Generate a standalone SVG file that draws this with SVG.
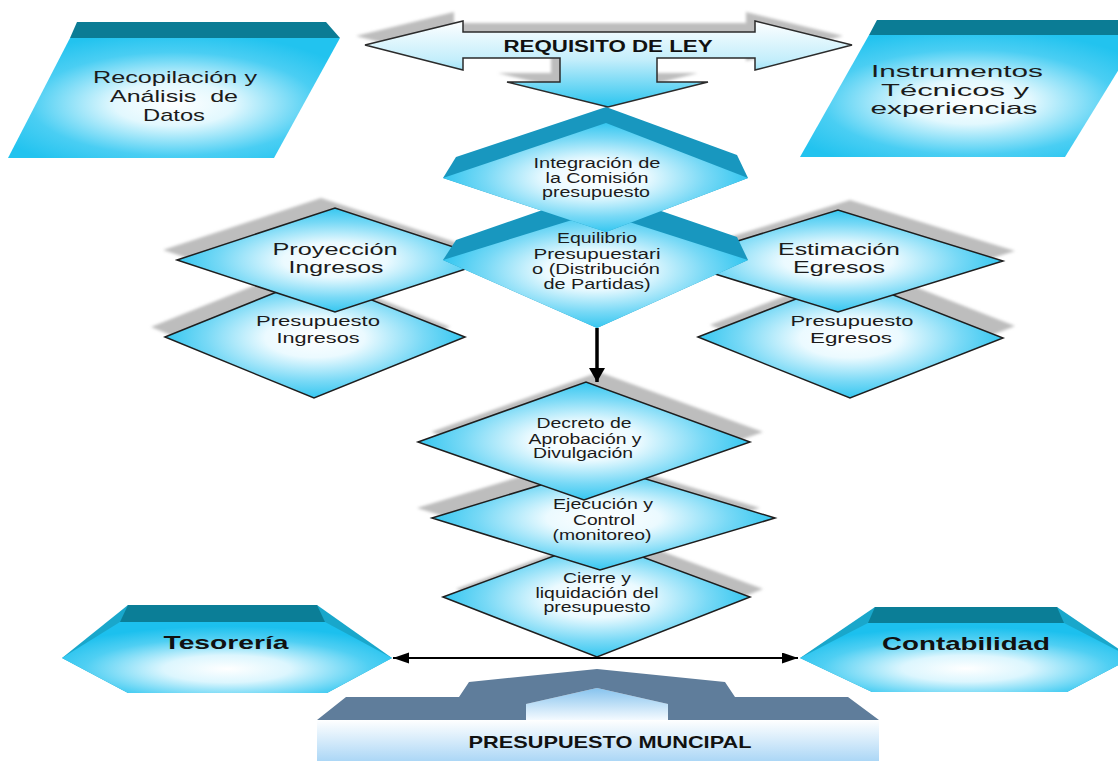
<svg xmlns="http://www.w3.org/2000/svg" width="1118" height="761" viewBox="0 0 1118 761">
<defs>
  <radialGradient id="gCyan" cx="0.5" cy="0.5" r="0.55">
    <stop offset="0" stop-color="#ffffff"/>
    <stop offset="0.3" stop-color="#ebfaff"/>
    <stop offset="0.66" stop-color="#78d9f6"/>
    <stop offset="1" stop-color="#1dc0ee"/>
  </radialGradient>
  <radialGradient id="gPara" cx="0.5" cy="0.55" r="0.6">
    <stop offset="0" stop-color="#ffffff"/>
    <stop offset="0.3" stop-color="#e2f8fe"/>
    <stop offset="0.72" stop-color="#4acef3"/>
    <stop offset="1" stop-color="#22c3ef"/>
  </radialGradient>
  <radialGradient id="gHex" cx="0.5" cy="0.66" r="0.6">
    <stop offset="0" stop-color="#ffffff"/>
    <stop offset="0.32" stop-color="#dcf6fe"/>
    <stop offset="0.72" stop-color="#4fcff3"/>
    <stop offset="1" stop-color="#1cc0ee"/>
  </radialGradient>
  <linearGradient id="gArrow" gradientUnits="userSpaceOnUse" x1="0" y1="20" x2="0" y2="108">
    <stop offset="0" stop-color="#ffffff"/>
    <stop offset="0.45" stop-color="#c4eefb"/>
    <stop offset="1" stop-color="#27c4ef"/>
  </linearGradient>
  <linearGradient id="gBase" x1="0" y1="0" x2="0" y2="1">
    <stop offset="0" stop-color="#ffffff"/>
    <stop offset="1" stop-color="#acd7f6"/>
  </linearGradient>
  <linearGradient id="gRoof" x1="0" y1="0" x2="0" y2="1">
    <stop offset="0" stop-color="#86c3ee"/>
    <stop offset="1" stop-color="#f4faff"/>
  </linearGradient>
  <filter id="soft" x="-10%" y="-10%" width="120%" height="120%">
    <feGaussianBlur stdDeviation="1.5"/>
  </filter>
  <marker id="headV" markerUnits="userSpaceOnUse" markerWidth="18" markerHeight="16" refX="14" refY="8" orient="auto">
    <path d="M0,0 L14,8 L0,16 Z" fill="#000"/>
  </marker>
  <marker id="headH" markerUnits="userSpaceOnUse" markerWidth="18" markerHeight="12" refX="16" refY="5.5" orient="auto-start-reverse">
    <path d="M0,0 L16,5.5 L0,11 Z" fill="#000"/>
  </marker>
  <style>
    .t{font-family:"Liberation Sans",Arial,Helvetica,sans-serif;text-anchor:middle;fill:#1b1b1b}
    .s14{font-size:14px}
    .s16{font-size:16.5px}
    .s17{font-size:17px}
    .b{font-weight:bold;fill:#111}
    .dia{fill:url(#gCyan);stroke:#1e1e1e;stroke-width:1.5;stroke-linejoin:miter}
    .shadow{fill:#bdbdbd;filter:url(#soft)}
    .face{fill:url(#gCyan)}
    .pface{fill:url(#gPara)}
    .band3d{fill:#1897bf}
    .pband{fill:#0b7c95}
    .hexbase{fill:#19a7cb}
    .hexband{fill:#0b7e97}
    .hexface{fill:url(#gHex)}
    .slate{fill:#5f7d9b}
    .conn{stroke:#000;fill:none}
  </style>
</defs>

<rect width="1118" height="761" fill="#ffffff"/>

<!-- data gathering, left -->
<g id="recopilacion">
  <polygon class="pband" points="77,22 326,22 340,38 70,38"/>
  <polygon class="pface" points="70,38 340,38 274,158 8,158"/>
  <text class="t s17" x="175" y="83" textLength="164" lengthAdjust="spacingAndGlyphs">Recopilación y</text>
  <text class="t s17" x="174" y="102" textLength="128" lengthAdjust="spacingAndGlyphs" xml:space="preserve">Análisis  de</text>
  <text class="t s17" x="174" y="121" textLength="62" lengthAdjust="spacingAndGlyphs">Datos</text>
</g>

<!-- technical instruments, right -->
<g id="instrumentos">
  <polygon class="pband" points="877,20 1125,20 1140,35 869,35"/>
  <polygon class="pface" points="869,35 1140,35 1065,157 800,157"/>
  <text class="t s17" x="957" y="77" textLength="172" lengthAdjust="spacingAndGlyphs">Instrumentos</text>
  <text class="t s17" x="955" y="96" textLength="148" lengthAdjust="spacingAndGlyphs">Técnicos y</text>
  <text class="t s17" x="954" y="114" textLength="167" lengthAdjust="spacingAndGlyphs">experiencias</text>
</g>

<!-- income side -->
<g id="presupuesto-ingresos">
  <polygon class="shadow" points="151,327 300,267 450,327 300,388"/>
  <polygon class="dia" points="165,337 314,277 465,337 314,398"/>
  <text class="t s14" x="318" y="326" textLength="124" lengthAdjust="spacingAndGlyphs">Presupuesto</text>
  <text class="t s14" x="318" y="343" textLength="83" lengthAdjust="spacingAndGlyphs">Ingresos</text>
</g>
<g id="proyeccion-ingresos">
  <polygon class="shadow" points="163,250 321,198 479,250 321,302"/>
  <polygon class="dia" points="177,260 335,208 493,260 335,312"/>
  <text class="t s16" x="335" y="255" textLength="125" lengthAdjust="spacingAndGlyphs">Proyección</text>
  <text class="t s16" x="336" y="273" textLength="95" lengthAdjust="spacingAndGlyphs">Ingresos</text>
</g>

<!-- expense side -->
<g id="presupuesto-egresos">
  <polygon class="shadow" points="710,325 862,266 1015,326 862,386"/>
  <polygon class="dia" points="698,337 850,278 1003,338 850,398"/>
  <text class="t s14" x="852" y="326" textLength="123" lengthAdjust="spacingAndGlyphs">Presupuesto</text>
  <text class="t s14" x="851" y="343" textLength="82" lengthAdjust="spacingAndGlyphs">Egresos</text>
</g>
<g id="estimacion-egresos">
  <polygon class="shadow" points="685,251 850,200 1015,251 850,302"/>
  <polygon class="dia" points="673,261 838,210 1003,261 838,312"/>
  <text class="t s16" x="839" y="255" textLength="122" lengthAdjust="spacingAndGlyphs">Estimación</text>
  <text class="t s16" x="839" y="273" textLength="92" lengthAdjust="spacingAndGlyphs">Egresos</text>
</g>

<!-- budget balance -->
<g id="equilibrio">
  <polygon class="band3d" points="443,260 456,240 600,190 737,237 748,260 597,328"/>
  <polygon class="face" points="443,260 598,212 748,260 597,328"/>
  <text class="t s14" x="597" y="243" textLength="80" lengthAdjust="spacingAndGlyphs">Equilibrio</text>
  <text class="t s14" x="597" y="259" textLength="127" lengthAdjust="spacingAndGlyphs">Presupuestari</text>
  <text class="t s14" x="596" y="274" textLength="128" lengthAdjust="spacingAndGlyphs">o (Distribución</text>
  <text class="t s14" x="597" y="289" textLength="107" lengthAdjust="spacingAndGlyphs">de Partidas)</text>
</g>

<!-- commission -->
<g id="integracion">
  <polygon class="band3d" points="443,178 456,157 606,107 737,155 748,178 606,232"/>
  <polygon class="face" points="443,178 606,123 748,178 606,232"/>
  <text class="t s14" x="597" y="168" textLength="127" lengthAdjust="spacingAndGlyphs">Integración de</text>
  <text class="t s14" x="597" y="183" textLength="103" lengthAdjust="spacingAndGlyphs">la Comisión</text>
  <text class="t s14" x="596" y="197" textLength="108" lengthAdjust="spacingAndGlyphs">presupuesto</text>
</g>

<!-- legal requirement arrow -->
<g id="requisito-de-ley">
  <polygon class="shadow" points="356,36 454,12 454,23 746,23 746,12 843,36 746,61 746,49 648,49 648,73 698,73 599,98 498,73 551,73 551,49 454,49 454,61"/>
  <polygon fill="url(#gArrow)" stroke="#2b2b2b" stroke-width="1.5" stroke-linejoin="miter" points="365,45 463,21 463,32 755,32 755,21 852,45 755,70 755,58 657,58 657,82 708,82 608,107 507,82 560,82 560,58 463,58 463,70"/>
  <text class="t b" style="font-size:16px" x="608" y="52" textLength="209" lengthAdjust="spacingAndGlyphs">REQUISITO DE LEY</text>
</g>

<!-- execution chain -->
<g id="cierre">
  <polygon class="shadow" points="456,589 610,532 763,589 610,649"/>
  <polygon class="dia" points="443,597 597,540 750,597 597,657"/>
  <text class="t s14" x="597" y="583" textLength="68" lengthAdjust="spacingAndGlyphs">Cierre y</text>
  <text class="t s14" x="597" y="598" textLength="123" lengthAdjust="spacingAndGlyphs">liquidación del</text>
  <text class="t s14" x="597" y="612" textLength="107" lengthAdjust="spacingAndGlyphs">presupuesto</text>
</g>
<g id="ejecucion">
  <polygon class="shadow" points="417,508 588,456 760,508 585,560"/>
  <polygon class="dia" points="432,518 603,466 775,518 600,570"/>
  <text class="t s14" x="603" y="509" textLength="100" lengthAdjust="spacingAndGlyphs">Ejecución y</text>
  <text class="t s14" x="604" y="525" textLength="62" lengthAdjust="spacingAndGlyphs">Control</text>
  <text class="t s14" x="602" y="540" textLength="99" lengthAdjust="spacingAndGlyphs">(monitoreo)</text>
</g>
<g id="decreto">
  <polygon class="shadow" points="431,432 599,372 763,432 597,490"/>
  <polygon class="dia" points="418,442 586,382 750,442 584,500"/>
  <text class="t s14" x="584" y="428" textLength="95" lengthAdjust="spacingAndGlyphs">Decreto de</text>
  <text class="t s14" x="585" y="444" textLength="113" lengthAdjust="spacingAndGlyphs">Aprobación y</text>
  <text class="t s14" x="583" y="458" textLength="100" lengthAdjust="spacingAndGlyphs">Divulgación</text>
</g>

<!-- treasury and accounting -->
<g id="tesoreria">
  <polygon class="hexbase" points="62,658 128,605 317,605 392,658 327,693 128,693"/>
  <polygon class="hexband" points="128,605 317,605 325,622 120,622"/>
  <polygon class="hexface" points="62,658 120,622 325,622 392,658 327,693 128,693"/>
  <text class="t b" style="font-size:19px" x="226" y="649" textLength="125" lengthAdjust="spacingAndGlyphs">Tesorería</text>
</g>
<g id="contabilidad">
  <polygon class="hexbase" points="800,658 875,607 1057,607 1132,658 1067,692 872,692"/>
  <polygon class="hexband" points="875,607 1057,607 1064,623 868,623"/>
  <polygon class="hexface" points="800,658 868,623 1064,623 1132,658 1067,692 872,692"/>
  <text class="t b" style="font-size:19px" x="966" y="650" textLength="168" lengthAdjust="spacingAndGlyphs">Contabilidad</text>
</g>

<!-- municipal budget base -->
<g id="presupuesto-municipal">
  <polygon fill="url(#gRoof)" points="526,720 526,704 597,688 668,704 668,720"/>
  <rect x="317" y="720" width="562" height="41" fill="url(#gBase)"/>
  <polygon class="slate" points="317,720 346,697 459,697 469,682 597,669 725,682 735,697 848,697 879,720 668,720 668,704 597,688 526,704 526,720"/>
  <text class="t b" style="font-size:17px" x="610" y="748" textLength="283" lengthAdjust="spacingAndGlyphs">PRESUPUESTO MUNCIPAL</text>
</g>

<!-- connectors -->
<g id="connectors">
  <line class="conn" x1="597" y1="328" x2="597" y2="382" stroke-width="3.5" marker-end="url(#headV)"/>
  <line class="conn" x1="393" y1="658" x2="798" y2="658" stroke-width="2" marker-start="url(#headH)" marker-end="url(#headH)"/>
</g>
</svg>
